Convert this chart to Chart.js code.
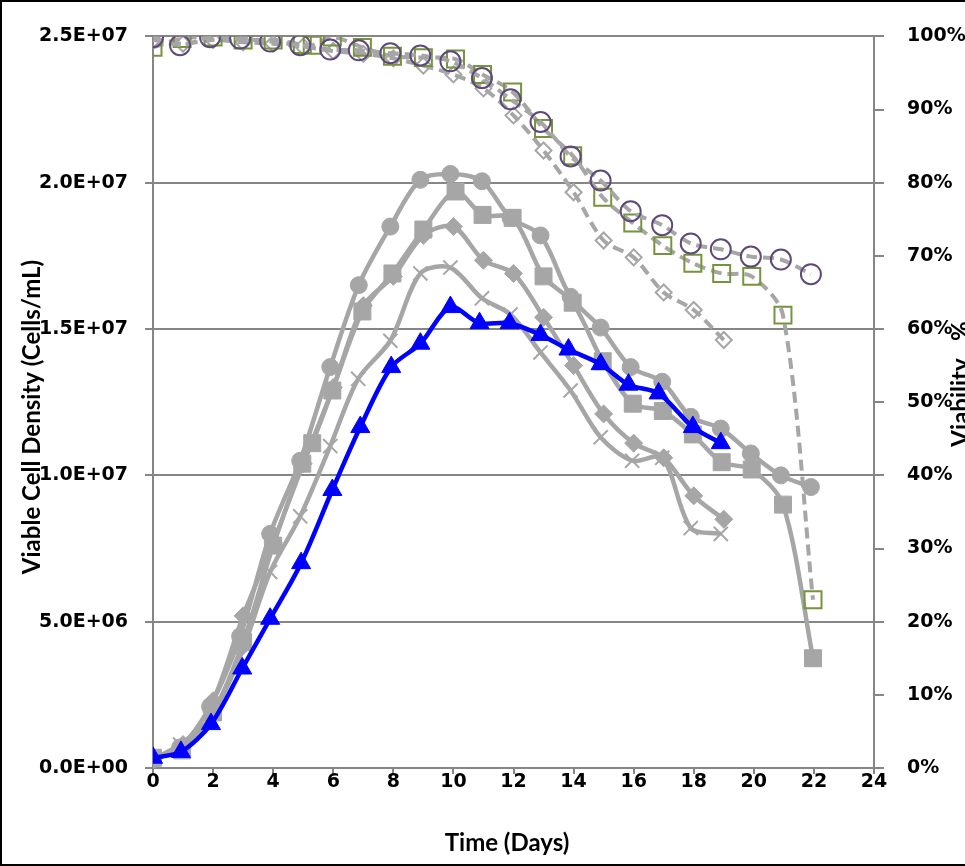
<!DOCTYPE html>
<html>
<head>
<meta charset="utf-8">
<title>Viable cell density and viability</title>
<script src="https://cdn.jsdelivr.net/npm/chart.js@4.4.1/dist/chart.umd.min.js"></script>
<style>
  html, body { margin: 0; padding: 0; background: #fff; overflow: hidden; }
  #frame { position: absolute; left: 0; top: 0; width: 990px; height: 862px; border: 2px solid #000; }
  canvas { display: block; }
</style>
</head>
<body>
<div id="frame"><canvas id="vcdChart"></canvas></div>
<script>
// --- culture data: time (days), viable cell density (cells/mL), viability (%) ---
const runA_days = [0, 0.9, 1.9, 2.9, 3.9, 4.9, 5.9, 6.85, 7.9, 8.9, 9.9, 10.95, 11.9, 12.9, 13.9, 14.9, 15.9, 16.95, 17.9, 18.9, 19.9, 20.9, 21.9];
const runA_vcd = [0.3e6, 0.7e6, 2.1e6, 4.5e6, 8.0e6, 10.5e6, 13.7e6, 16.5e6, 18.5e6, 20.1e6, 20.3e6, 20.05e6, 18.8e6, 18.2e6, 16.1e6, 15.05e6, 13.7e6, 13.2e6, 12.0e6, 11.6e6, 10.75e6, 10.0e6, 9.6e6];
const runA_via = [99.9, 98.8, 99.9, 99.7, 99.3, 98.8, 98.2, 98.1, 97.7, 97.4, 96.6, 94.3, 91.4, 88.3, 83.6, 80.3, 76.1, 74.2, 71.7, 70.9, 69.9, 69.5, 67.5];

const runB_days = [0, 0.97, 2, 3, 4, 4.97, 5.3, 5.97, 6.97, 7.97, 9, 10.07, 10.97, 11.97, 13, 13.97, 14.97, 15.97, 16.97, 17.97, 18.93, 19.93, 20.97, 21.97];
const runB_vcd = [0.35e6, 0.6e6, 1.9e6, 4.3e6, 7.6e6, 10.4e6, 11.1e6, 12.9e6, 15.6e6, 16.9e6, 18.4e6, 19.7e6, 18.9e6, 18.8e6, 16.8e6, 15.9e6, 13.9e6, 12.45e6, 12.2e6, 11.4e6, 10.45e6, 10.2e6, 9.0e6, 3.75e6];
const runB_via = [98.5, 99.7, 99.9, 99.5, 99.5, 98.9, 98.8, 99.9, 98.5, 97.3, 97.1, 96.9, 94.8, 92.4, 87.4, 83.7, 78.0, 74.5, 71.4, 69.0, 67.6, 67.2, 61.9, 23.0];

const runC_days = [0, 1, 2, 3, 4, 5, 6, 7, 8, 9, 10, 11, 12, 13, 14, 15, 16, 17, 18, 19];
const runC_vcd = [0.3e6, 0.8e6, 2.3e6, 5.2e6, 7.7e6, 10.4e6, 13.0e6, 15.8e6, 16.8e6, 18.2e6, 18.5e6, 17.35e6, 16.9e6, 15.4e6, 13.75e6, 12.1e6, 11.1e6, 10.6e6, 9.3e6, 8.5e6];
const runC_via = [99.5, 99.0, 99.5, 99.2, 99.0, 98.6, 98.0, 97.6, 97.0, 96.0, 94.8, 92.9, 89.2, 84.4, 78.7, 72.1, 69.8, 65.0, 62.6, 58.5];

const runD_days = [0, 0.9, 1.9, 2.9, 3.9, 4.9, 5.9, 6.83, 7.9, 8.9, 9.9, 10.95, 11.9, 12.9, 13.9, 14.9, 15.95, 16.95, 17.9, 18.9];
const runD_vcd = [0.3e6, 0.8e6, 1.7e6, 3.8e6, 6.7e6, 8.6e6, 11.0e6, 13.3e6, 14.6e6, 16.9e6, 17.1e6, 16.05e6, 15.5e6, 14.2e6, 12.9e6, 11.3e6, 10.5e6, 10.6e6, 8.2e6, 8.0e6];

const runE_days = [0, 0.93, 1.93, 2.97, 3.9, 4.93, 5.97, 6.9, 7.93, 8.9, 9.9, 10.87, 11.87, 12.9, 13.83, 14.9, 15.83, 16.83, 17.97, 18.9];
const runE_vcd = [0.35e6, 0.55e6, 1.5e6, 3.4e6, 5.1e6, 7.0e6, 9.5e6, 11.65e6, 13.7e6, 14.5e6, 15.75e6, 15.2e6, 15.2e6, 14.8e6, 14.3e6, 13.8e6, 13.1e6, 12.8e6, 11.65e6, 11.1e6];

const dayTicks = [0, 2, 4, 6, 8, 10, 12, 14, 16, 18, 20, 22, 24];

const GREY = '#A6A6A6';
const AXIS = '#868686';
const tickFont = { family: 'DejaVu Sans', size: 19, weight: 'bold' };

function pts(xs, ys) { return xs.map((x, i) => ({ x: x, y: ys[i] })); }

// 2.5E+07 style labels
function sci(v) {
  const [m, e] = Number(v).toExponential(1).split('e');
  const n = parseInt(e, 10);
  return m + 'E' + (n < 0 ? '-' : '+') + String(Math.abs(n)).padStart(2, '0');
}

function vcdSet(xs, ys, style, radius, extra) {
  return Object.assign({
    data: pts(xs, ys), yAxisID: 'y',
    borderColor: GREY, borderWidth: 4.5,
    pointStyle: style, pointRadius: radius,
    pointBackgroundColor: GREY, pointBorderColor: GREY, pointBorderWidth: 1,
    tension: 0.3, order: 5
  }, extra || {});
}

function viaSet(xs, ys, style, radius, color, extra) {
  return Object.assign({
    data: pts(xs, ys), yAxisID: 'y1',
    borderColor: GREY, borderWidth: 4, borderDash: [11, 6],
    pointStyle: style, pointRadius: radius,
    pointBackgroundColor: 'rgba(255,255,255,0)', pointBorderColor: color, pointBorderWidth: 2,
    tension: 0.3, order: 2
  }, extra || {});
}

// axis titles drawn by hand so they can sit off-centre like the original sheet
const axisTitles = {
  id: 'axisTitles',
  afterDraw(chart) {
    const ctx = chart.ctx;
    const put = (text, x, y, rot) => {
      ctx.save();
      ctx.translate(x, y);
      ctx.rotate(rot);
      ctx.font = 'bold 24px Lato';
      ctx.fillStyle = '#000';
      ctx.textAlign = 'center';
      ctx.textBaseline = 'middle';
      ctx.fillText(text, 0, 0);
      ctx.restore();
    };
    put('Viable Cell Density (Cells/mL)', 30, 415, -Math.PI / 2);
    put('Time (Days)', 505, 841, 0);
    put('Viability , %', 959, 382, -Math.PI / 2);
  }
};

new Chart(document.getElementById('vcdChart'), {
  type: 'line',
  data: {
    datasets: [
      vcdSet(runE_days, runE_vcd, 'triangle', 11, { borderColor: '#0000FF', pointBackgroundColor: '#0000FF', pointBorderColor: '#0000FF', order: 0 }),
      viaSet(runA_days, runA_via, 'circle', 10, '#5F497A', { order: 1 }),
      viaSet(runB_days, runB_via, 'rect', 12, '#77933C', { order: 2 }),
      viaSet(runC_days, runC_via, 'rectRot', 8, GREY, { order: 3 }),
      vcdSet(runA_days, runA_vcd, 'circle', 8.5),
      vcdSet(runB_days, runB_vcd, 'rect', 12),
      vcdSet(runC_days, runC_vcd, 'rectRot', 9),
      vcdSet(runD_days, runD_vcd, 'crossRot', 10, { pointBorderWidth: 2 })
    ]
  },
  options: {
    responsive: true,
    maintainAspectRatio: false,
    animation: false,
    layout: { padding: { top: 34, left: 0, right: 0, bottom: 0 } },
    plugins: { legend: { display: false }, tooltip: { enabled: false } },
    scales: {
      x: {
        type: 'linear', min: 0, max: 24,
        afterBuildTicks: s => { s.ticks = dayTicks.map(v => ({ value: v })); },
        afterFit: s => { s.height = 96; },
        grid: { drawOnChartArea: false, drawTicks: true, tickLength: 6, color: AXIS, lineWidth: 2 },
        border: { display: true, color: AXIS, width: 2 },
        ticks: { font: tickFont, color: '#000', padding: -3, maxRotation: 0 }
      },
      y: {
        position: 'left', min: 0, max: 2.5e7,
        afterFit: s => { s.width = 151; },
        grid: { drawOnChartArea: true, drawTicks: true, tickLength: 8, color: AXIS, lineWidth: 2 },
        border: { display: true, color: AXIS, width: 2 },
        ticks: { stepSize: 5e6, font: tickFont, color: '#000', padding: 17, callback: v => sci(v) }
      },
      y1: {
        position: 'right', min: 0, max: 100,
        afterFit: s => { s.width = 118; },
        grid: { drawOnChartArea: false, drawTicks: true, tickLength: 10, color: AXIS, lineWidth: 2 },
        border: { display: true, color: AXIS, width: 2 },
        ticks: { stepSize: 10, font: tickFont, color: '#000', padding: 23, callback: v => v + '%' }
      }
    }
  },
  plugins: [axisTitles]
});
</script>
</body>
</html>
